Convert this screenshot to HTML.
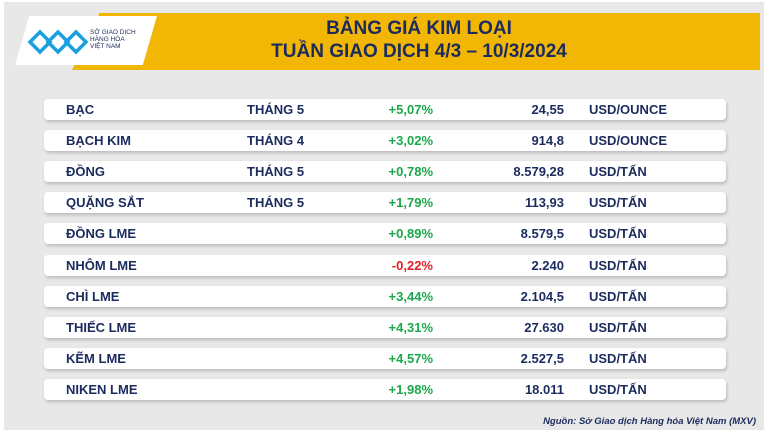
<!DOCTYPE html>
<html><head><meta charset="utf-8"><style>
body{margin:0;width:770px;height:433px;overflow:hidden;background:#fff;font-family:"Liberation Sans",sans-serif;}
#f{position:absolute;left:4px;top:2px;width:760px;height:428px;background:#e8e8e8;}
.ban{position:absolute;left:68px;top:11px;width:688px;height:57px;background:#f2b705;clip-path:polygon(4% 0,100% 0,100% 100%,0 100%);}
.logo{position:absolute;left:11px;top:14px;width:142px;height:49px;background:#fff;clip-path:polygon(10% 0,100% 0,90% 100%,0 100%);box-shadow:0 2px 4px #0004;}
.t{position:absolute;left:130px;width:570px;text-align:center;color:#1b2b5e;font-weight:bold;font-size:19px;}
.r{position:absolute;left:44px;width:682px;height:21px;background:#fff;border-radius:4px;box-shadow:1px 2px 3px #0003;color:#1b2b5e;font-weight:bold;font-size:13px;}
.r span{position:absolute;top:3px;}
.g{color:#1aa84a}.red{color:#e0202a}
</style></head><body><div id="f">
<div class="ban"></div>
<div class="logo"></div>
<svg style="position:absolute;left:24px;top:24px" width="62" height="32"><g fill="none" stroke="#1aa0e0" stroke-width="3.5"><path d="M2 16 L12 6 L22 16 L12 26 Z M20 16 L30 6 L40 16 L30 26 Z M38 16 L48 6 L58 16 L48 26Z"/></g></svg>
<div style="position:absolute;left:86px;top:27px;font-size:6.5px;line-height:7px;color:#1b2b5e">SỞ GIAO DỊCH<br>HÀNG HÓA<br>VIỆT NAM</div>
<div class="t" style="top:16px">BẢNG GIÁ KIM LOẠI</div>
<div class="t" style="top:39px">TUẦN GIAO DỊCH 4/3 – 10/3/2024</div>
</div>
<div id="rows"></div>
<script>
var d=[["BẠC","THÁNG 5","+5,07%","24,55","USD/OUNCE"],["BẠCH KIM","THÁNG 4","+3,02%","914,8","USD/OUNCE"],["ĐỒNG","THÁNG 5","+0,78%","8.579,28","USD/TẤN"],["QUẶNG SẮT","THÁNG 5","+1,79%","113,93","USD/TẤN"],["ĐỒNG LME","","+0,89%","8.579,5","USD/TẤN"],["NHÔM LME","","-0,22%","2.240","USD/TẤN"],["CHÌ LME","","+3,44%","2.104,5","USD/TẤN"],["THIẾC LME","","+4,31%","27.630","USD/TẤN"],["KẼM LME","","+4,57%","2.527,5","USD/TẤN"],["NIKEN LME","","+1,98%","18.011","USD/TẤN"]];
var h="";d.forEach(function(r,i){var y=99+i*31.1;h+='<div class="r" style="top:'+y+'px"><span style="left:22px">'+r[0]+'</span><span style="left:203px">'+r[1]+'</span><span class="'+(r[2][0]=="-"?"red":"g")+'" style="right:293px">'+r[2]+'</span><span style="right:162px">'+r[3]+'</span><span style="left:545px">'+r[4]+'</span></div>';});
document.getElementById("rows").innerHTML=h;
</script>
<div style="position:absolute;right:14px;top:416px;font-size:9.5px;font-style:italic;font-weight:bold;color:#1b2b5e">Nguồn: Sở Giao dịch Hàng hóa Việt Nam (MXV)</div>
</body></html>
